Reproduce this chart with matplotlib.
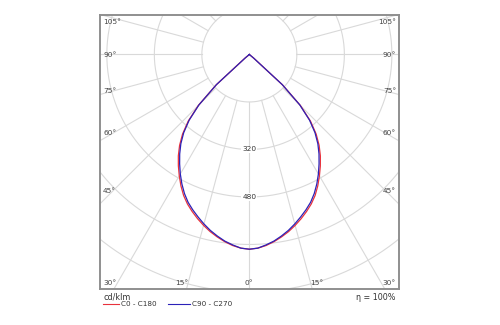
import numpy as np
import matplotlib
matplotlib.use("Agg")
import matplotlib.pyplot as plt
from matplotlib.lines import Line2D
from matplotlib.projections.polar import PolarTransform

# ---- data (cd/klm) ----
gamma = [0, 2.5, 5, 7.5, 10, 12.5, 15, 17.5, 20, 22.5, 25, 27.5, 30, 32.5, 35,
         37.5, 40, 42.5, 45, 47.5, 50, 52.5, 60, 70, 80, 90]
c0_c180 = [656, 653, 646, 636, 624, 611, 596, 580, 563, 545, 524, 499, 472, 445, 417,
           386, 350, 305, 243, 152, 20, 0, 0, 0, 0, 0]
c90_c270 = [656, 653, 644, 634, 621, 607, 591, 574, 557, 539, 517, 492, 465, 437, 409,
            379, 344, 300, 240, 150, 18, 0, 0, 0, 0, 0]
ring_values = [160, 320, 480, 640, 800, 960, 1120]
ring_labels = [320, 480]
side_angle_labels = ["105°", "90°", "75°", "60°", "45°", "30°"]
bottom_angle_labels = ["15°", "0°", "15°"]
series_names = ["C0 - C180", "C90 - C270"]
unit_label = "cd/klm"
eta_label = "η = 100%"

W, H = 500, 325
plt.rcParams["font.family"] = ["DejaVu Sans"]
fig = plt.figure(figsize=(W / 100, H / 100), dpi=100)

def fx(px):
    return px / W

def fy(py):
    return 1 - py / H

ax = fig.add_axes([fx(100), fy(289), fx(399) - fx(100), fy(15) - fy(289)])
ax.set_xlim(-503, 504)
ax.set_ylim(-790, 133)
ax.set_xticks([])
ax.set_yticks([])
for s in ax.spines.values():
    s.set_color("#8f8f8f")
    s.set_linewidth(1.4)

polar = PolarTransform(apply_theta_transforms=False) + ax.transData
grid_c = "#d9d9d9"

# rings
phi_full = np.linspace(0, 2 * np.pi, 721)
for rv in ring_values:
    ax.plot(phi_full, np.full_like(phi_full, rv), color=grid_c, lw=0.8,
            transform=polar, zorder=1)
# radial lines every 15 degrees, starting at the first ring
for a in range(0, 360, 15):
    ph = np.deg2rad(a)
    ax.plot([ph, ph], [ring_values[0], 2000], color=grid_c, lw=0.8,
            transform=polar, zorder=1)

# curves (0 deg pointing down)
g = np.array(gamma, dtype=float)
signed = np.concatenate([-g[::-1], g[1:]])
phi = np.deg2rad(signed - 90)

def full(vals):
    v = np.array(vals, dtype=float)
    return np.concatenate([v[::-1], v[1:]])

ax.plot(phi, full(c0_c180), color="#e8323c", lw=0.9, transform=polar, zorder=3)
ax.plot(phi, full(c90_c270), color="#2b22b8", lw=0.9, transform=polar, zorder=4)

# ring labels on the 0 degree axis
for rv in ring_labels:
    ax.text(np.deg2rad(-90), rv, str(rv), transform=polar, ha="center", va="center",
            fontsize=5.3, color="#333333", zorder=2,
            bbox=dict(facecolor="white", edgecolor="none", pad=0.6))

# angle labels
fs = 5.3
tc = "#444444"
side_y = [22, 55, 91, 133, 191, 283]
for lab, yy in zip(side_angle_labels, side_y):
    fig.text(fx(103), fy(yy), lab, ha="left", va="center", fontsize=fs, color=tc)
    fig.text(fx(396), fy(yy), lab, ha="right", va="center", fontsize=fs, color=tc)
for lab, xx in zip(bottom_angle_labels, [182, 249, 317]):
    fig.text(fx(xx), fy(283), lab, ha="center", va="center", fontsize=fs, color=tc)

# legend / footer
fig.text(fx(103), fy(297), unit_label, ha="left", va="center", fontsize=5.8, color="#333333")
fig.text(fx(396), fy(298), eta_label, ha="right", va="center", fontsize=5.8, color="#333333")
leg_cols = ["#e8323c", "#2b22b8"]
leg_x = [(103, 119), (168, 190)]
for (x0, x1), col, name in zip(leg_x, leg_cols, series_names):
    fig.add_artist(Line2D([fx(x0), fx(x1)], [fy(304), fy(304)], color=col, lw=0.8,
                          transform=fig.transFigure))
    fig.text(fx(x1 + 2), fy(304), name, ha="left", va="center", fontsize=5.2, color="#333333")

fig.savefig("out.png", dpi=100, facecolor="white")
